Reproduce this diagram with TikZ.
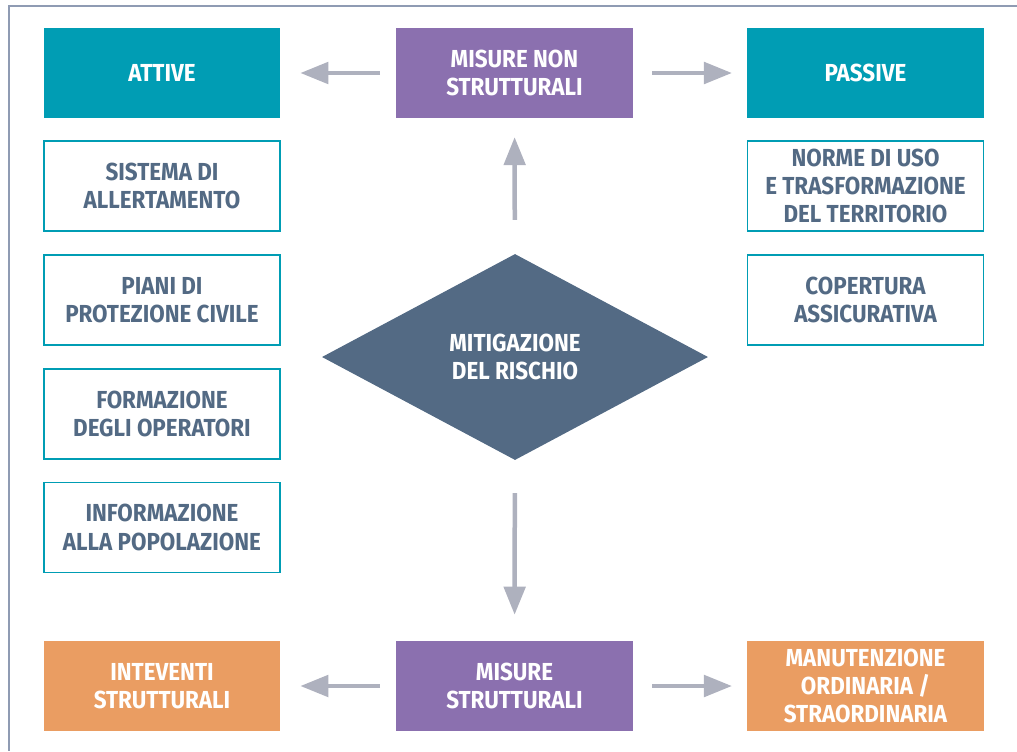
\documentclass[tikz,border=0pt]{standalone}
\usepackage{fontspec}
\usetikzlibrary{arrows.meta,shapes.geometric}
\newfontfamily\boxfont{Fira Sans}[FakeStretch=0.91]
\definecolor{teal}{HTML}{009DB4}
\definecolor{viola}{HTML}{8B70AF}
\definecolor{arancio}{HTML}{EA9D62}
\definecolor{ardesia}{HTML}{536A84}
\definecolor{freccia}{HTML}{AEB1BE}
\definecolor{cornice}{HTML}{8F9BB3}
\tikzset{
  box/.style={rectangle, minimum width=5.9cm, minimum height=2.25cm, inner sep=0pt,
    align=center, font=\boxfont\bfseries\fontsize{17.5}{20}\selectfont},
  pienobox/.style={box, fill=#1, text=white},
  vuotobox/.style={box, draw=teal, line width=1.2pt, fill=white, text=ardesia},
  freccia/.style={draw=freccia, line width=3.2pt, -{Triangle[width=0.53cm,length=0.7cm]}}
}
\begin{document}
\begin{tikzpicture}[x=0.025cm,y=-0.025cm]
\useasboundingbox (0,0) rectangle (1017,751);
% cornice
\draw[cornice, line width=1.2pt] (1017,6) -- (9,6) -- (9,751);

% misure non strutturali
\node[pienobox=viola] (nonstr) at (514.5,73) {MISURE NON\\STRUTTURALI};
\node[pienobox=teal] (attive) at (162,73) {ATTIVE};
\node[pienobox=teal] (passive) at (865.5,73) {PASSIVE};

\node[vuotobox] (allerta) at (162,186) {SISTEMA DI\\ALLERTAMENTO};
\node[vuotobox] (piani) at (162,300) {PIANI DI\\PROTEZIONE CIVILE};
\node[vuotobox] (formaz) at (162,414) {FORMAZIONE\\DEGLI OPERATORI};
\node[vuotobox] (inform) at (162,527.5) {INFORMAZIONE\\ALLA POPOLAZIONE};

\node[vuotobox] (norme) at (865.5,186) {NORME DI USO\\E TRASFORMAZIONE\\DEL TERRITORIO};
\node[vuotobox] (assic) at (865.5,300) {COPERTURA\\ASSICURATIVA};

% centro
\node[diamond, fill=ardesia, text=white, inner sep=0pt, minimum width=9.65cm,
  minimum height=5.15cm, align=center, font=\boxfont\bfseries\fontsize{17.5}{20}\selectfont]
  (mitig) at (515,357) {MITIGAZIONE\\DEL RISCHIO};

% misure strutturali
\node[pienobox=viola] (strutt) at (514.5,686) {MISURE\\STRUTTURALI};
\node[pienobox=arancio] (interv) at (162,686) {INTEVENTI\\STRUTTURALI};
\node[pienobox=arancio] (manut) at (865.5,686) {MANUTENZIONE\\ORDINARIA /\\STRAORDINARIA};

% frecce
\draw[freccia, shorten <=0.4cm, shorten >=0.5cm] (nonstr) -- (attive);
\draw[freccia, shorten <=0.48cm, shorten >=0.38cm] (nonstr) -- (passive);
\draw[freccia, shorten <=0.85cm, shorten >=0.47cm] (mitig) -- (nonstr);
\draw[freccia, shorten <=0.82cm, shorten >=0.65cm] (mitig) -- (strutt);
\draw[freccia, shorten <=0.4cm, shorten >=0.5cm] (strutt) -- (interv);
\draw[freccia, shorten <=0.48cm, shorten >=0.38cm] (strutt) -- (manut);
\end{tikzpicture}
\end{document}
